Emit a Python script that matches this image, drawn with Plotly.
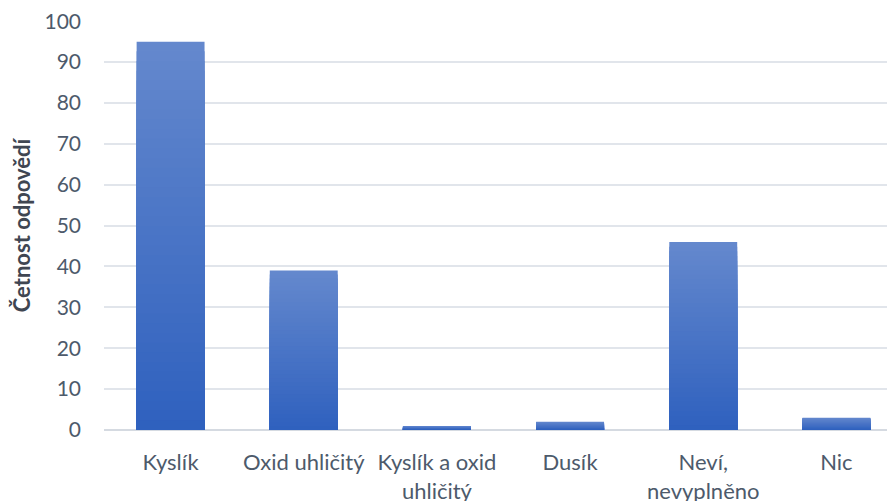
import plotly.graph_objects as go

categories = ["Kyslík", "Oxid uhličitý", "Kyslík a oxid<br>uhličitý", "Dusík", "Neví,<br>nevyplněno", "Nic"]
values = [95, 39, 1, 2, 46, 3]
y_ticks = list(range(0, 101, 10))

top_rgb = (100, 136, 205)
bot_rgb = (46, 96, 190)
N = 40

fig = go.Figure()
for k in range(N):
    f = k / N
    c = tuple(round(top_rgb[i] + (bot_rgb[i] - top_rgb[i]) * f) for i in range(3))
    fig.add_trace(go.Bar(
        x=categories,
        y=[v * (1 - f) for v in values],
        marker=dict(color="rgb(%d,%d,%d)" % c, line=dict(width=0)),
        showlegend=False,
        hoverinfo="skip" if k else "x+y",
    ))

font = "Lato, Carlito, Calibri, sans-serif"
fig.update_layout(
    width=887, height=493,
    barmode="overlay",
    bargap=0.49,
    margin=dict(l=96, r=0, t=13, b=71, autoexpand=False),
    plot_bgcolor="white", paper_bgcolor="white",
    font=dict(family=font, size=21, color="#4D5A6B"),
)
fig.update_xaxes(
    range=[-0.5, 5.44], automargin=False,
    showgrid=False, showline=False, zeroline=False,
    ticks="", ticklabelstandoff=17, ticklabeloverflow="allow",
    tickfont=dict(size=22, color="#4D5A6B"),
)
fig.update_yaxes(
    range=[0, 100.05], tickvals=y_ticks, automargin=False,
    showgrid=True, gridcolor="#E1E5EB", gridwidth=1.5,
    zeroline=True, zerolinecolor="#D5DAE1", zerolinewidth=2,
    ticks="", ticklabelstandoff=22, ticklabeloverflow="allow",
    tickfont=dict(size=21, color="#4D5A6B"),
    title=dict(text="<b>Četnost odpovědí</b>", font=dict(size=22, color="#3F4652"), standoff=9),
)
fig.write_html("out.html")
